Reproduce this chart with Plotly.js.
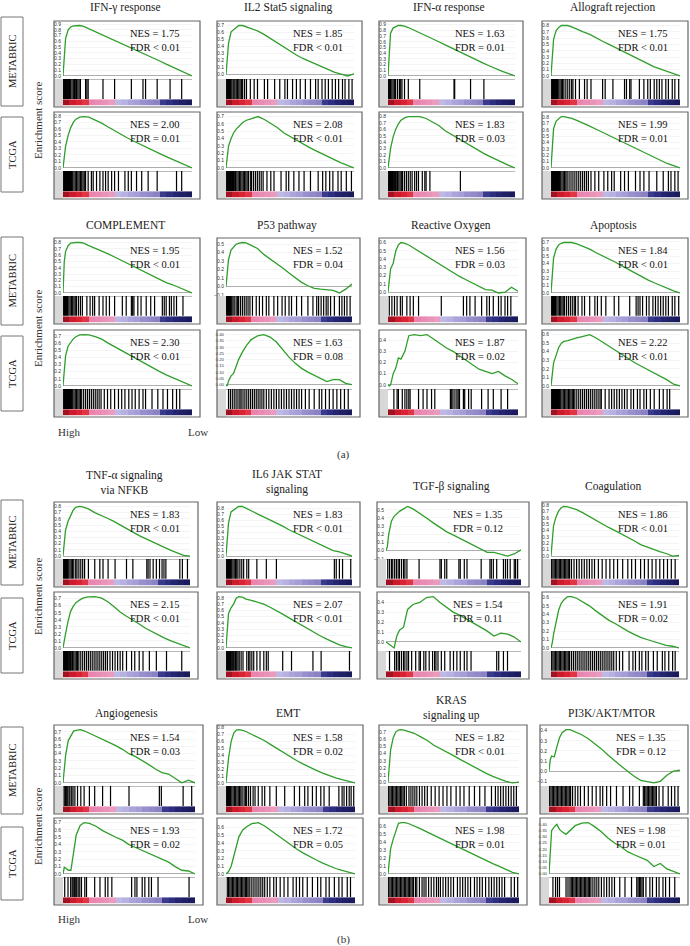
<!DOCTYPE html>
<html><head><meta charset="utf-8">
<script src="https://cdn.plot.ly/plotly-3.0.1.min.js"></script>
<style>html,body{margin:0;padding:0;background:#fff}#chart{width:690px;height:946px}</style>
</head><body><div id="chart"></div>
<script>
// ---------------- DATA ----------------
const rankX = [0,0.01,0.02,0.04,0.06,0.08,0.10,0.13,0.16,0.20,0.25,0.30,0.35,0.40,0.45,0.50,0.55,0.60,0.65,0.70,0.75,0.80,0.85,0.90,0.95,1.00];

const pathways = ["IFN-γ response","IL2 Stat5 signaling","IFN-α response","Allograft rejection",
  "COMPLEMENT","P53 pathway","Reactive Oxygen","Apoptosis",
  "TNF-α signaling<br>via NFKB","IL6 JAK STAT<br>signaling","TGF-β signaling","Coagulation",
  "Angiogenesis","EMT","KRAS<br>signaling up","PI3K/AKT/MTOR"];

const cohorts = ["METABRIC","TCGA"];

const esMetabric = [
  [0,0.40,0.65,0.80,0.85,0.87,0.875,0.875,0.86,0.82,0.77,0.72,0.67,0.62,0.565,0.51,0.46,0.41,0.36,0.31,0.26,0.205,0.155,0.10,0.05,0.0],
  [0,0.25,0.45,0.61,0.64,0.67,0.70,0.70,0.68,0.65,0.62,0.57,0.51,0.45,0.39,0.33,0.28,0.23,0.19,0.145,0.10,0.065,0.03,0.005,-0.02,0.01],
  [0,0.45,0.75,0.84,0.87,0.885,0.885,0.875,0.85,0.81,0.76,0.71,0.65,0.60,0.545,0.49,0.44,0.38,0.33,0.28,0.225,0.175,0.125,0.08,0.04,0],
  [0,0.35,0.58,0.72,0.77,0.80,0.80,0.80,0.78,0.75,0.70,0.66,0.60,0.55,0.50,0.45,0.40,0.34,0.29,0.24,0.19,0.145,0.11,0.07,0.03,0],
  [0,0.50,0.66,0.75,0.79,0.80,0.80,0.80,0.79,0.75,0.71,0.665,0.62,0.57,0.52,0.47,0.41,0.36,0.31,0.26,0.21,0.165,0.13,0.09,0.04,0],
  [0,0.20,0.32,0.43,0.47,0.50,0.51,0.52,0.515,0.49,0.45,0.38,0.33,0.28,0.22,0.16,0.10,0.05,0.01,-0.02,-0.03,-0.035,-0.045,-0.075,-0.03,0.03],
  [0,0.12,0.28,0.35,0.50,0.57,0.60,0.59,0.57,0.53,0.48,0.43,0.385,0.34,0.29,0.24,0.19,0.15,0.11,0.06,0.03,0.025,-0.01,0.0,0.06,0.01],
  [0,0.30,0.48,0.60,0.66,0.68,0.69,0.69,0.69,0.67,0.64,0.60,0.55,0.51,0.47,0.42,0.37,0.32,0.28,0.23,0.18,0.14,0.10,0.065,0.03,0],
  [0,0.25,0.42,0.56,0.66,0.74,0.785,0.80,0.79,0.76,0.70,0.66,0.61,0.56,0.50,0.44,0.385,0.33,0.28,0.23,0.18,0.13,0.09,0.05,0.01,0],
  [0,0.30,0.55,0.74,0.77,0.81,0.83,0.83,0.80,0.76,0.71,0.66,0.60,0.55,0.50,0.44,0.39,0.34,0.28,0.23,0.18,0.13,0.09,0.07,0.03,0],
  [0,0.05,0.20,0.36,0.42,0.45,0.48,0.51,0.54,0.51,0.46,0.40,0.34,0.28,0.23,0.19,0.15,0.11,0.07,0.02,-0.02,-0.02,-0.04,-0.065,-0.04,0.01],
  [0,0.30,0.48,0.62,0.71,0.76,0.78,0.775,0.76,0.73,0.68,0.62,0.56,0.50,0.45,0.40,0.35,0.29,0.24,0.18,0.14,0.10,0.07,0.04,0.0,0.01],
  [0,0.15,0.38,0.58,0.65,0.71,0.72,0.73,0.715,0.68,0.64,0.60,0.56,0.51,0.46,0.40,0.36,0.31,0.25,0.19,0.14,0.12,0.06,0.0,0.035,0],
  [0,0.18,0.36,0.60,0.72,0.765,0.77,0.76,0.74,0.70,0.66,0.61,0.55,0.49,0.43,0.37,0.32,0.27,0.22,0.18,0.14,0.10,0.07,0.045,0.025,0],
  [0,0.27,0.45,0.62,0.70,0.725,0.73,0.72,0.705,0.68,0.63,0.58,0.515,0.47,0.42,0.37,0.32,0.27,0.22,0.17,0.125,0.085,0.045,0.015,-0.005,0.005],
  [0,0.115,0.15,0.14,0.24,0.33,0.38,0.41,0.41,0.39,0.36,0.32,0.27,0.22,0.16,0.10,0.05,0.0,-0.05,-0.09,-0.105,-0.115,-0.10,-0.04,0.0,0.01]
];

const esTcga = [
  [0,0.15,0.33,0.50,0.62,0.70,0.75,0.78,0.79,0.78,0.74,0.69,0.63,0.57,0.51,0.46,0.41,0.36,0.31,0.27,0.22,0.175,0.13,0.085,0.04,0],
  [0,0.20,0.30,0.40,0.48,0.53,0.57,0.62,0.65,0.67,0.70,0.66,0.61,0.55,0.48,0.43,0.37,0.32,0.28,0.235,0.19,0.15,0.11,0.07,0.035,0],
  [0,0.15,0.30,0.48,0.60,0.68,0.74,0.78,0.80,0.80,0.80,0.77,0.72,0.66,0.58,0.52,0.46,0.40,0.34,0.28,0.23,0.18,0.13,0.085,0.04,0],
  [0,0.42,0.62,0.74,0.78,0.81,0.81,0.80,0.78,0.75,0.71,0.66,0.61,0.56,0.51,0.46,0.41,0.36,0.31,0.26,0.21,0.16,0.115,0.07,0.035,0],
  [0,0.27,0.42,0.56,0.62,0.66,0.69,0.715,0.72,0.715,0.69,0.655,0.60,0.55,0.50,0.45,0.40,0.345,0.29,0.245,0.20,0.155,0.115,0.08,0.04,0],
  [0,-0.01,0.03,0.07,0.09,0.15,0.20,0.26,0.31,0.36,0.39,0.40,0.38,0.34,0.28,0.22,0.17,0.13,0.10,0.075,0.05,0.025,0.04,0.04,0.01,0],
  [0,-0.01,0.0,0.10,0.15,0.24,0.23,0.30,0.44,0.45,0.44,0.45,0.41,0.37,0.33,0.30,0.26,0.22,0.18,0.14,0.12,0.10,0.12,0.08,0.05,0.01],
  [0,0.17,0.27,0.36,0.45,0.50,0.52,0.53,0.54,0.56,0.58,0.60,0.56,0.51,0.46,0.41,0.36,0.31,0.27,0.23,0.19,0.15,0.11,0.07,0.02,0],
  [0,0.08,0.20,0.38,0.52,0.59,0.64,0.68,0.71,0.725,0.73,0.71,0.66,0.59,0.51,0.45,0.40,0.34,0.28,0.23,0.18,0.14,0.10,0.07,0.03,0],
  [0,0.30,0.55,0.64,0.70,0.79,0.82,0.81,0.78,0.76,0.73,0.70,0.65,0.60,0.54,0.48,0.42,0.36,0.30,0.25,0.19,0.14,0.09,0.05,0.02,0],
  [0,-0.01,-0.02,-0.04,-0.06,0.06,0.12,0.15,0.33,0.38,0.40,0.45,0.46,0.40,0.35,0.30,0.27,0.23,0.19,0.15,0.11,0.06,0.09,0.08,0.05,0],
  [0,0.06,0.16,0.32,0.45,0.53,0.57,0.61,0.61,0.59,0.55,0.50,0.44,0.38,0.33,0.29,0.24,0.20,0.16,0.125,0.10,0.075,0.05,0.03,0.02,0],
  [0,0.09,0.08,0.05,0.05,0.28,0.53,0.66,0.70,0.69,0.65,0.59,0.54,0.50,0.46,0.40,0.36,0.32,0.28,0.25,0.21,0.16,0.10,0.05,0.04,0],
  [0,0.01,0.03,0.10,0.23,0.38,0.48,0.57,0.61,0.65,0.665,0.62,0.56,0.49,0.43,0.37,0.32,0.27,0.22,0.18,0.14,0.10,0.07,0.045,0.02,0],
  [0,0.16,0.32,0.44,0.55,0.64,0.65,0.65,0.635,0.61,0.57,0.53,0.49,0.45,0.41,0.37,0.32,0.28,0.24,0.20,0.165,0.13,0.095,0.06,0.02,0],
  [0,0.21,0.35,0.38,0.40,0.36,0.34,0.32,0.35,0.39,0.41,0.415,0.38,0.34,0.29,0.25,0.22,0.18,0.155,0.13,0.11,0.06,0.085,0.04,0.02,0]
];

const hitsMetabric = [
  [0.005,0.01,0.015,0.02,0.025,0.03,0.035,0.04,0.045,0.05,0.055,0.06,0.07,0.08,0.09,0.095,0.105,0.115,0.125,0.135,0.175,0.185,0.195,0.31,0.40,0.53,0.62,0.64,0.73,0.83,0.92],
  [0.005,0.012,0.02,0.028,0.035,0.045,0.055,0.062,0.07,0.08,0.09,0.1,0.11,0.12,0.13,0.145,0.16,0.19,0.22,0.246,0.30,0.325,0.38,0.42,0.46,0.48,0.52,0.55,0.58,0.62,0.66,0.70,0.72,0.75,0.775,0.80,0.83,0.855,0.88,0.91,0.93,0.96,0.985],
  [0.005,0.01,0.015,0.02,0.03,0.04,0.05,0.06,0.075,0.09,0.1,0.11,0.13,0.16,0.25,0.52,0.525,0.65,0.755],
  [0.005,0.012,0.02,0.028,0.035,0.042,0.05,0.06,0.07,0.08,0.09,0.1,0.115,0.13,0.145,0.16,0.17,0.19,0.22,0.26,0.28,0.31,0.40,0.42,0.48,0.57,0.585,0.61,0.62,0.685,0.72,0.75,0.77,0.80,0.82,0.84,0.86,0.89,0.91,0.94,0.96,0.99],
  [0.005,0.012,0.02,0.028,0.035,0.045,0.055,0.065,0.075,0.085,0.095,0.105,0.12,0.135,0.15,0.185,0.21,0.23,0.245,0.28,0.31,0.335,0.36,0.40,0.46,0.49,0.53,0.54,0.55,0.58,0.605,0.645,0.68,0.71,0.77,0.785,0.80,0.825,0.84,0.86,0.88,0.93],
  [0.005,0.012,0.02,0.028,0.035,0.045,0.055,0.065,0.08,0.09,0.1,0.115,0.13,0.145,0.16,0.175,0.19,0.21,0.24,0.265,0.29,0.32,0.34,0.38,0.41,0.445,0.47,0.50,0.52,0.56,0.60,0.65,0.69,0.72,0.735,0.755,0.775,0.795,0.81,0.83,0.86,0.90,0.92,0.94,0.96,0.985],
  [0.01,0.03,0.05,0.07,0.095,0.11,0.145,0.17,0.195,0.235,0.41,0.58,0.605,0.63,0.67,0.72,0.76,0.78,0.81,0.85,0.87,0.90,0.92,0.945],
  [0.005,0.012,0.02,0.028,0.035,0.045,0.055,0.065,0.075,0.085,0.095,0.105,0.12,0.135,0.15,0.165,0.18,0.19,0.21,0.24,0.26,0.30,0.34,0.36,0.39,0.425,0.49,0.525,0.61,0.66,0.675,0.69,0.71,0.74,0.76,0.79,0.81,0.83,0.85,0.87,0.89,0.91,0.94,0.96,0.99],
  [0.005,0.012,0.02,0.028,0.035,0.045,0.055,0.065,0.075,0.085,0.1,0.11,0.125,0.14,0.155,0.17,0.20,0.25,0.29,0.315,0.355,0.41,0.50,0.55,0.66,0.67,0.685,0.71,0.735,0.76,0.78,0.795,0.81,0.92,0.94,0.98],
  [0.005,0.012,0.02,0.028,0.035,0.045,0.055,0.065,0.075,0.085,0.095,0.11,0.125,0.14,0.165,0.18,0.245,0.32,0.40,0.86,0.875,0.90,0.925,0.99],
  [0.013,0.026,0.04,0.05,0.064,0.077,0.09,0.10,0.115,0.13,0.14,0.155,0.245,0.40,0.41,0.435,0.45,0.54,0.55,0.58,0.60,0.705,0.77,0.78,0.795,0.82,0.87,0.885,0.90,0.92,0.95,0.96,0.975],
  [0.005,0.015,0.025,0.035,0.045,0.055,0.065,0.075,0.085,0.095,0.105,0.115,0.125,0.135,0.145,0.16,0.18,0.20,0.22,0.24,0.26,0.28,0.30,0.32,0.34,0.37,0.40,0.43,0.46,0.49,0.52,0.56,0.60,0.63,0.66,0.70,0.73,0.76,0.79,0.82,0.85,0.88,0.91,0.94,0.97],
  [0.008,0.015,0.02,0.028,0.036,0.046,0.053,0.066,0.076,0.09,0.11,0.135,0.16,0.20,0.24,0.30,0.36,0.50,0.73,0.745,0.91,0.975],
  [0.005,0.012,0.02,0.028,0.035,0.045,0.055,0.065,0.075,0.085,0.095,0.105,0.115,0.125,0.14,0.15,0.16,0.175,0.19,0.21,0.225,0.25,0.28,0.30,0.34,0.39,0.455,0.53,0.57,0.61,0.635,0.67,0.70,0.735,0.76,0.80,0.875,0.90,0.915,0.935,0.955,0.97,0.99],
  [0.005,0.015,0.025,0.035,0.045,0.055,0.065,0.075,0.085,0.095,0.105,0.115,0.125,0.14,0.16,0.175,0.19,0.205,0.22,0.24,0.26,0.28,0.30,0.33,0.36,0.39,0.42,0.45,0.48,0.52,0.55,0.58,0.62,0.66,0.70,0.74,0.79,0.82,0.84,0.86,0.88,0.90,0.92,0.94,0.96,0.98],
  [0.005,0.015,0.025,0.035,0.045,0.055,0.065,0.075,0.085,0.095,0.105,0.115,0.125,0.135,0.145,0.155,0.165,0.18,0.20,0.22,0.24,0.27,0.30,0.33,0.36,0.39,0.41,0.44,0.47,0.515,0.565,0.615,0.64,0.69,0.72,0.73,0.74,0.75,0.76,0.77,0.78,0.79,0.80,0.81,0.82,0.84,0.87,0.91,0.935,0.96,0.985]
];

const hitsTcga = [
  [0.005,0.012,0.02,0.028,0.035,0.042,0.05,0.058,0.065,0.075,0.085,0.095,0.105,0.115,0.125,0.135,0.145,0.155,0.165,0.175,0.195,0.22,0.234,0.26,0.286,0.31,0.33,0.35,0.377,0.40,0.43,0.48,0.506,0.53,0.57,0.61,0.66,0.73,0.88,0.92],
  [0.005,0.012,0.02,0.028,0.035,0.042,0.05,0.058,0.065,0.075,0.085,0.095,0.105,0.115,0.125,0.135,0.145,0.155,0.165,0.175,0.19,0.2,0.215,0.23,0.245,0.26,0.275,0.29,0.32,0.35,0.375,0.43,0.47,0.49,0.53,0.57,0.61,0.66,0.72,0.755,0.78,0.81,0.835,0.875,0.90,0.94,0.98],
  [0.005,0.012,0.02,0.028,0.035,0.042,0.05,0.058,0.065,0.075,0.085,0.095,0.105,0.115,0.13,0.145,0.16,0.175,0.19,0.21,0.225,0.24,0.27,0.29,0.30,0.33,0.57],
  [0.005,0.012,0.02,0.028,0.035,0.042,0.05,0.058,0.065,0.075,0.085,0.095,0.105,0.115,0.125,0.14,0.155,0.17,0.185,0.2,0.215,0.23,0.245,0.26,0.275,0.29,0.31,0.34,0.37,0.41,0.44,0.47,0.49,0.54,0.57,0.60,0.655,0.69,0.72,0.76,0.82,0.87,0.91,0.93,0.96,0.985],
  [0.005,0.012,0.02,0.028,0.035,0.042,0.05,0.058,0.065,0.075,0.085,0.095,0.105,0.115,0.125,0.135,0.145,0.16,0.175,0.19,0.205,0.22,0.235,0.25,0.265,0.28,0.295,0.32,0.345,0.37,0.40,0.43,0.455,0.48,0.51,0.535,0.56,0.59,0.62,0.64,0.69,0.735,0.775,0.81,0.85,0.88,0.905],
  [0.02,0.035,0.05,0.065,0.08,0.095,0.11,0.12,0.135,0.15,0.165,0.18,0.195,0.21,0.225,0.24,0.255,0.27,0.285,0.30,0.32,0.34,0.36,0.38,0.40,0.42,0.44,0.46,0.48,0.50,0.52,0.54,0.56,0.58,0.60,0.63,0.66,0.70,0.74,0.76,0.79,0.82,0.85,0.88,0.91,0.94,0.97],
  [0.045,0.07,0.08,0.11,0.13,0.145,0.16,0.17,0.235,0.27,0.30,0.335,0.36,0.48,0.49,0.50,0.515,0.53,0.54,0.55,0.58,0.59,0.62,0.64,0.72,0.77,0.81,0.87,0.92],
  [0.005,0.012,0.02,0.028,0.035,0.042,0.05,0.058,0.065,0.075,0.085,0.095,0.105,0.115,0.125,0.135,0.145,0.155,0.165,0.175,0.185,0.2,0.215,0.23,0.245,0.26,0.275,0.29,0.305,0.32,0.335,0.35,0.365,0.38,0.39,0.42,0.45,0.47,0.49,0.51,0.53,0.55,0.57,0.59,0.62,0.64,0.67,0.69,0.72,0.74,0.77,0.80,0.84,0.87,0.90,0.92],
  [0.005,0.012,0.02,0.028,0.035,0.042,0.05,0.058,0.065,0.075,0.085,0.095,0.105,0.115,0.125,0.14,0.155,0.17,0.185,0.2,0.215,0.23,0.245,0.26,0.275,0.29,0.305,0.32,0.335,0.35,0.37,0.39,0.41,0.43,0.45,0.47,0.50,0.54,0.565,0.60,0.63,0.68,0.735,0.815,0.935],
  [0.005,0.012,0.02,0.028,0.035,0.042,0.05,0.058,0.065,0.075,0.085,0.095,0.105,0.12,0.135,0.165,0.18,0.19,0.205,0.22,0.245,0.27,0.30,0.32,0.335,0.45,0.52,0.69,0.755,0.98],
  [0.026,0.064,0.077,0.09,0.10,0.115,0.13,0.14,0.155,0.167,0.19,0.22,0.245,0.255,0.28,0.295,0.32,0.345,0.36,0.37,0.385,0.41,0.435,0.475,0.50,0.525,0.55,0.58,0.60,0.63,0.82,0.835,0.87,0.90],
  [0.005,0.015,0.025,0.035,0.045,0.055,0.065,0.075,0.085,0.095,0.105,0.115,0.125,0.135,0.145,0.16,0.175,0.19,0.205,0.22,0.235,0.25,0.265,0.28,0.295,0.31,0.325,0.34,0.355,0.37,0.385,0.40,0.415,0.43,0.445,0.46,0.475,0.49,0.51,0.535,0.56,0.61,0.64,0.66,0.69,0.71,0.74,0.76,0.80,0.83,0.87,0.89,0.92,0.95,0.97],
  [0.013,0.038,0.058,0.069,0.076,0.084,0.089,0.097,0.104,0.115,0.127,0.14,0.165,0.178,0.24,0.28,0.32,0.34,0.37,0.52,0.545,0.56,0.60,0.62,0.65,0.67,0.72,0.955],
  [0.01,0.02,0.03,0.04,0.05,0.06,0.07,0.08,0.09,0.10,0.11,0.12,0.13,0.14,0.15,0.16,0.17,0.18,0.195,0.21,0.225,0.24,0.255,0.27,0.285,0.30,0.32,0.34,0.37,0.39,0.42,0.45,0.48,0.52,0.545,0.57,0.595,0.63,0.67,0.71,0.735,0.775,0.80,0.84,0.875,0.90,0.94,0.965],
  [0.005,0.015,0.025,0.035,0.045,0.055,0.065,0.075,0.085,0.095,0.105,0.115,0.125,0.135,0.145,0.155,0.165,0.175,0.185,0.195,0.21,0.22,0.24,0.26,0.275,0.29,0.31,0.33,0.35,0.37,0.385,0.40,0.42,0.44,0.46,0.48,0.50,0.53,0.55,0.57,0.59,0.61,0.63,0.66,0.68,0.70,0.72,0.745,0.77,0.79,0.81,0.83,0.85,0.87,0.89,0.94,0.965,0.99],
  [0.03,0.05,0.065,0.08,0.13,0.145,0.16,0.17,0.18,0.19,0.20,0.21,0.22,0.23,0.24,0.25,0.26,0.27,0.28,0.29,0.30,0.31,0.32,0.335,0.35,0.365,0.38,0.40,0.42,0.44,0.46,0.48,0.50,0.54,0.58,0.63,0.67,0.68,0.69,0.70,0.71,0.72,0.74,0.77,0.79,0.82,0.84,0.87,0.89,0.92,0.96]
];

const nesMetabric = ["1.75","1.85","1.63","1.75","1.95","1.52","1.56","1.84","1.83","1.83","1.35","1.86","1.54","1.58","1.82","1.35"];
const fdrMetabric = ["< 0.01","< 0.01","= 0.01","< 0.01","< 0.01","= 0.04","= 0.03","< 0.01","< 0.01","< 0.01","= 0.12","< 0.01","= 0.03","= 0.02","< 0.01","= 0.12"];
const nesTcga = ["2.00","2.08","1.83","1.99","2.30","1.63","1.87","2.22","2.15","2.07","1.54","1.91","1.93","1.72","1.98","1.98"];
const fdrTcga = ["= 0.01","< 0.01","= 0.03","= 0.01","< 0.01","= 0.08","= 0.02","< 0.01","< 0.01","< 0.01","= 0.11","= 0.02","= 0.02","= 0.05","= 0.01","= 0.01"];

const rankBarColors = ["#a01222","#cc1a2c","#d92234","#e03545","#e884ad","#e98bb2","#ea93b8","#eb9bbe",
  "#bdb8e4","#b6b1e0","#aaa4da","#a49dd6","#9890cc","#928ac8","#8a82c2","#3a3a8c","#2e2e80","#242470","#1f1f66","#1a1a5c"];

const panelLabels = ["(a)","(b)"];
const rankLabels = ["High","Low"];

// ---------------- LAYOUT GEOMETRY ----------------
const W = 690, H = 946;
const px = v => v / W, py = v => 1 - v / H;
const SERIF = "Liberation Serif, Times New Roman, serif";

const groupL = [[54,217,379,542],[54,217,379,542],[54,217,377,542],[54,217,379,540]];
const groupR = [[200,362,523,688],[200,360,526,688],[198,360,529,687],[203,363,527,688]];
const groupRows = [[[21,107],[112,199]],[[238,324],[330,417]],[[502,587],[592,679]],[[725,814],[818,905]]];
const titleY = [8,225,487,713];
const boxRows = [[[17,106],[117,192]],[[237,325],[336,411]],[[500,585],[598,673]],[[727,814],[827,900]]];
const esLabelY = [121,329,597,827];

const traces = [];
const layout = {
  width: W, height: H, margin: {l:0,r:0,t:0,b:0},
  paper_bgcolor: "#fff", plot_bgcolor: "#fff", showlegend: false,
  font: {family: SERIF, color: "#222"},
  shapes: [], annotations: []
};
const sfx = n => n === 1 ? "" : String(n);
const cs = rankBarColors.map((c, i) => [i / (rankBarColors.length - 1), c]);
const zRow = [rankBarColors.map((_, i) => i)];

let k = 0;
for (let g = 0; g < 4; g++) {
  for (let r = 0; r < 2; r++) {
    for (let c = 0; c < 4; c++) {
      const idx = g * 4 + c;
      const es = r === 0 ? esMetabric[idx] : esTcga[idx];
      const hits = r === 0 ? hitsMetabric[idx] : hitsTcga[idx];
      const nes = r === 0 ? nesMetabric[idx] : nesTcga[idx];
      const fdr = r === 0 ? fdrMetabric[idx] : fdrTcga[idx];
      const L = groupL[g][c], R = groupR[g][c];
      const T = groupRows[g][r][0], B = groupRows[g][r][1];
      const axL = L + 9, axR = R - 8;
      const curveBot = B - 28;
      k++;
      const xn = k, ya = 2 * k - 1, yb = 2 * k;
      const xName = "x" + sfx(xn), yaName = "y" + sfx(ya), ybName = "y" + sfx(yb);

      const hi = Math.max(...es), lo = Math.min(0, ...es), span = hi - lo;
      const step = span < 0.45 ? 0.05 : 0.1;

      layout["xaxis" + sfx(xn)] = {
        domain: [px(axL), px(axR)], range: [0, 1], anchor: yaName,
        showgrid: false, zeroline: false, showticklabels: false, ticks: "",
        showline: true, linecolor: "#aaa", linewidth: 0.8, fixedrange: true
      };
      layout["yaxis" + sfx(ya)] = {
        domain: [py(curveBot), py(T + 2)], anchor: xName,
        range: [lo - 0.06 * span, hi + 0.05 * span],
        tick0: 0, dtick: step, tickformat: step < 0.1 ? ".2f" : ".1f",
        ticks: "", ticklen: 0, ticklabelstandoff: 1,
        tickfont: {family: "Liberation Sans, Arial, sans-serif", size: step < 0.1 ? 4.3 : 5, color: "#333"},
        showgrid: true, gridcolor: "#ececec", gridwidth: 0.6,
        zeroline: true, zerolinecolor: "#999", zerolinewidth: 0.8,
        showline: false, fixedrange: true
      };
      layout["yaxis" + sfx(yb)] = {
        domain: [py(B - 1.5), py(curveBot)], anchor: xName, range: [0, 1],
        visible: false, fixedrange: true
      };

      // enrichment curve
      traces.push({
        type: "scatter", mode: "lines", x: rankX, y: es, xaxis: xName, yaxis: yaName,
        line: {color: "#2f9e2a", width: 1.3}, hoverinfo: "skip"
      });
      // barcode of hits
      const bx = [], by = [];
      hits.forEach(h => { bx.push(h, h, null); by.push(0.25, 1, null); });
      traces.push({
        type: "scatter", mode: "lines", x: bx, y: by, xaxis: xName, yaxis: ybName,
        line: {color: "#000", width: 1.2}, hoverinfo: "skip"
      });
      // ranked list colour bar
      traces.push({
        type: "heatmap", z: zRow, x0: 0.025, dx: 0.05, y0: 0.115, dy: 0.23,
        xaxis: xName, yaxis: ybName, colorscale: cs, zmin: 0, zmax: rankBarColors.length - 1,
        showscale: false, hoverinfo: "skip"
      });

      // grey strip left of barcode
      layout.shapes.push({type: "rect", xref: "paper", yref: "paper",
        x0: px(L), x1: px(axL), y0: py(B), y1: py(curveBot),
        fillcolor: "#d8d8d8", line: {width: 0}, layer: "above"});
      // panel frame
      layout.shapes.push({type: "rect", xref: "paper", yref: "paper",
        x0: px(L), x1: px(R), y0: py(B), y1: py(T),
        line: {color: "#666", width: 1.2}, fillcolor: "rgba(0,0,0,0)", layer: "above"});

      // NES / FDR
      layout.annotations.push({
        xref: "paper", yref: "paper", x: px(L + 74), y: py(T + 19),
        xanchor: "left", yanchor: "middle", align: "left", showarrow: false,
        text: "NES = " + nes + "<br>FDR " + fdr.replace("<", "&lt;"),
        font: {family: SERIF, size: 10.5, color: "#111"}
      });

      // column title
      if (r === 0) {
        const t = pathways[idx];
        layout.annotations.push({
          xref: "paper", yref: "paper", x: px((L + R) / 2 - 2),
          y: py(titleY[g] - (t.indexOf("<br>") >= 0 ? 5 : 0)),
          xanchor: "center", yanchor: "middle", showarrow: false, text: t,
          font: {family: SERIF, size: 11.5, color: "#222"}
        });
      }
    }
  }
  // row labels and axis label for the group
  for (let r = 0; r < 2; r++) {
    const [y0, y1] = boxRows[g][r];
    layout.shapes.push({type: "rect", xref: "paper", yref: "paper",
      x0: px(1), x1: px(23), y0: py(y1), y1: py(y0),
      line: {color: "#777", width: 1}, fillcolor: "rgba(0,0,0,0)"});
    layout.annotations.push({
      xref: "paper", yref: "paper", x: px(12.5), y: py((y0 + y1) / 2),
      xanchor: "center", yanchor: "middle", showarrow: false, textangle: -90,
      text: cohorts[r], font: {family: SERIF, size: 10.5, color: "#222"}
    });
  }
  layout.annotations.push({
    xref: "paper", yref: "paper", x: px(38), y: py(esLabelY[g]),
    xanchor: "center", yanchor: "middle", showarrow: false, textangle: -90,
    text: "Enrichment score", font: {family: SERIF, size: 11, color: "#333"}
  });
}

// High / Low and (a) / (b)
[[432, 454], [919, 939]].forEach((pos, i) => {
  layout.annotations.push({xref: "paper", yref: "paper", x: px(69), y: py(pos[0]),
    xanchor: "center", yanchor: "middle", showarrow: false, text: rankLabels[0],
    font: {family: SERIF, size: 11, color: "#333"}});
  layout.annotations.push({xref: "paper", yref: "paper", x: px(198), y: py(pos[0]),
    xanchor: "center", yanchor: "middle", showarrow: false, text: rankLabels[1],
    font: {family: SERIF, size: 11, color: "#333"}});
  layout.annotations.push({xref: "paper", yref: "paper", x: px(343), y: py(pos[1]),
    xanchor: "center", yanchor: "middle", showarrow: false, text: panelLabels[i],
    font: {family: SERIF, size: 11, color: "#333"}});
});

Plotly.newPlot("chart", traces, layout, {staticPlot: true, displayModeBar: false});
</script>
</body></html>
